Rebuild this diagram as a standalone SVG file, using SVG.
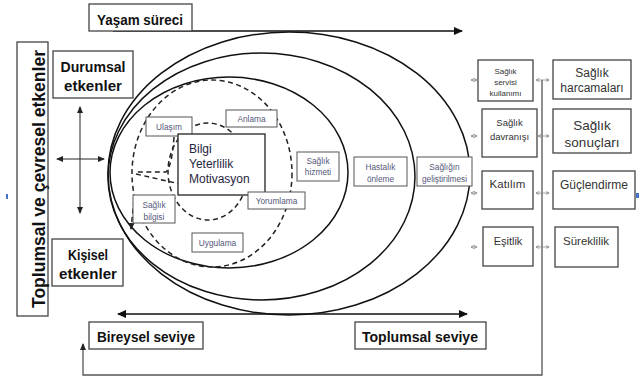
<svg xmlns="http://www.w3.org/2000/svg" width="639" height="385" viewBox="0 0 639 385">
<defs>
<style>
.box{fill:#fff;stroke:#444;stroke-width:1.3}
.sbox{fill:#fff;stroke:#555;stroke-width:1}
.lbl{font-family:"Liberation Sans",Arial,sans-serif;font-weight:bold;fill:#111;text-anchor:middle;font-size:15px}
.sm{font-family:"Liberation Sans",Arial,sans-serif;font-size:8.3px;fill:#55587a;text-anchor:middle}
.rc{font-family:"Liberation Sans",Arial,sans-serif;fill:#333;text-anchor:middle}
.ell{fill:none;stroke:#111;stroke-width:1.5}
.dash{fill:none;stroke:#222;stroke-width:1.5;stroke-dasharray:5 3.5}
.con{fill:none;stroke:#111;stroke-width:1.4}
.tiny{fill:none;stroke:#888;stroke-width:0.8}
</style>
<marker id="ah" markerUnits="userSpaceOnUse" markerWidth="9" markerHeight="8" refX="8" refY="4" orient="auto-start-reverse"><path d="M0,0 L9,4 L0,8 z" fill="#111"/></marker>
<marker id="ah2" markerUnits="userSpaceOnUse" markerWidth="7" markerHeight="6" refX="6" refY="3" orient="auto-start-reverse"><path d="M0,0 L7,3 L0,6 z" fill="#222"/></marker>
<marker id="sa" markerUnits="userSpaceOnUse" markerWidth="4" markerHeight="4" refX="3.5" refY="2" orient="auto-start-reverse"><path d="M0,0.3 L3.6,2 L0,3.7" fill="none" stroke="#888" stroke-width="0.8"/></marker>
</defs>
<rect width="639" height="385" fill="#fff"/>

<g id="ellipses">
<ellipse cx="289" cy="173.5" rx="181" ry="141.5" class="ell" stroke-width="2.6"/>
<ellipse cx="261.5" cy="176.5" rx="153.5" ry="123.5" class="ell"/>
<ellipse cx="229" cy="172.5" rx="119" ry="95.5" class="ell"/>
<ellipse cx="212" cy="173.5" rx="80" ry="93.5" class="dash"/>
<ellipse cx="208" cy="171.5" rx="40" ry="48.5" class="dash"/>
<path d="M174,137 Q172,166 166,172 L136,172 M136,174 L180,184" class="dash"/>
<path d="M134,200 L131,229" class="dash" marker-end="url(#ah2)"/>
</g>

<g id="connectors">
<line x1="113" y1="31" x2="462" y2="31" class="con" marker-end="url(#ah)"/>
<line x1="118" y1="314" x2="467" y2="314" class="con" marker-start="url(#ah)" marker-end="url(#ah)"/>
<line x1="80" y1="107" x2="80" y2="213" stroke="#222" stroke-width="1" marker-start="url(#ah2)" marker-end="url(#ah2)"/>
<line x1="57" y1="159" x2="104" y2="159" stroke="#222" stroke-width="1" marker-start="url(#ah2)" marker-end="url(#ah2)"/>
<path d="M542,80 V375 H83 V344" fill="none" stroke="#555" stroke-width="1.3" marker-end="url(#ah2)"/>
<g class="tiny">
<line x1="471" y1="80" x2="477" y2="80" marker-start="url(#sa)" marker-end="url(#sa)"/>
<line x1="471" y1="136" x2="477" y2="136" marker-start="url(#sa)" marker-end="url(#sa)"/>
<line x1="471" y1="193" x2="477" y2="193" marker-start="url(#sa)" marker-end="url(#sa)"/>
<line x1="471" y1="247" x2="477" y2="247" marker-start="url(#sa)" marker-end="url(#sa)"/>
<line x1="536" y1="80" x2="549" y2="80" marker-start="url(#sa)" marker-end="url(#sa)"/>
<line x1="538" y1="136" x2="549" y2="136" marker-start="url(#sa)" marker-end="url(#sa)"/>
<line x1="536" y1="193" x2="549" y2="193" marker-start="url(#sa)" marker-end="url(#sa)"/>
<line x1="536" y1="247" x2="549" y2="247" marker-start="url(#sa)" marker-end="url(#sa)"/>
</g>
</g>

<g id="yasam-sureci"><rect x="89" y="4" width="103" height="27" class="box"/><text x="140" y="25" class="lbl" textLength="86" lengthAdjust="spacingAndGlyphs">Yaşam süreci</text></g>
<g id="toplumsal-cevresel"><rect x="17" y="42" width="31" height="274" class="box"/><text transform="translate(45,179) rotate(-90)" class="lbl" style="font-size:19px" textLength="258" lengthAdjust="spacingAndGlyphs">Toplumsal ve çevresel etkenler</text></g>
<g id="durumsal"><rect x="53" y="51" width="80" height="47" class="box"/><text x="93" y="72" class="lbl" textLength="65" lengthAdjust="spacingAndGlyphs">Durumsal</text><text x="93" y="91" class="lbl" textLength="58" lengthAdjust="spacingAndGlyphs">etkenler</text></g>
<g id="kisisel"><rect x="52" y="239" width="71" height="47" class="box"/><text x="88" y="260" class="lbl" textLength="40" lengthAdjust="spacingAndGlyphs">Kişisel</text><text x="88" y="279" class="lbl" textLength="58" lengthAdjust="spacingAndGlyphs">etkenler</text></g>
<g id="bireysel"><rect x="89" y="322" width="114" height="27" class="box"/><text x="146" y="342" class="lbl" textLength="98" lengthAdjust="spacingAndGlyphs">Bireysel seviye</text></g>
<g id="toplumsal-seviye"><rect x="355" y="322" width="131" height="27" class="box"/><text x="420" y="342" class="lbl" textLength="116" lengthAdjust="spacingAndGlyphs">Toplumsal seviye</text></g>

<g id="ulasim"><rect x="146" y="117" width="46" height="19" class="sbox"/><text x="169" y="130" class="sm">Ulaşım</text></g>
<g id="anlama"><rect x="226" y="110" width="51" height="17" class="sbox"/><text x="251.5" y="121.5" class="sm">Anlama</text></g>
<g id="bilgi"><rect x="178" y="134" width="87" height="61" fill="#fff" stroke="#222" stroke-width="1.3"/>
<text font-family="'Liberation Sans',Arial,sans-serif" font-size="12" fill="#1f2540"><tspan x="189" y="153">Bilgi</tspan><tspan x="189" y="168">Yeterlilik</tspan><tspan x="189" y="183">Motivasyon</tspan></text></g>
<g id="saglik-hizmeti"><rect x="297" y="152" width="42" height="29" class="sbox"/><text x="318" y="164" class="sm">Sağlık</text><text x="318" y="175" class="sm">hizmeti</text></g>
<g id="yorumlama"><rect x="248" y="192" width="57" height="17" class="sbox"/><text x="276.5" y="203.5" class="sm">Yorumlama</text></g>
<g id="saglik-bilgisi"><rect x="133" y="195" width="42" height="28" class="sbox"/><text x="154" y="208" class="sm">Sağlık</text><text x="154" y="220" class="sm">bilgisi</text></g>
<g id="uygulama"><rect x="192" y="233" width="51" height="19" class="sbox"/><text x="217.5" y="245.5" class="sm">Uygulama</text></g>
<g id="hastalik-onleme"><rect x="354" y="157" width="53" height="29" class="sbox"/><text x="380.5" y="170" class="sm">Hastalık</text><text x="380.5" y="182" class="sm">önleme</text></g>
<g id="sagligin-gelistirilmesi"><rect x="417" y="157" width="55" height="29" class="sbox"/><text x="444.5" y="170" class="sm">Sağlığın</text><text x="444.5" y="182" class="sm">geliştirilmesi</text></g>

<g id="servis-kullanimi"><rect x="478" y="60" width="55" height="41" class="box"/><text class="rc" font-size="8"><tspan x="505.5" y="73.5">Sağlık</tspan><tspan x="505.5" y="84.5">servisi</tspan><tspan x="505.5" y="95.5">kullanımı</tspan></text></g>
<g id="davranis"><rect x="482" y="109" width="55" height="48" class="box"/><text class="rc" font-size="9.5"><tspan x="509.5" y="125.5">Sağlık</tspan><tspan x="509.5" y="139.5">davranışı</tspan></text></g>
<g id="katilim"><rect x="482" y="171" width="51" height="38" class="box"/><text x="507.5" y="188" class="rc" font-size="11.5">Katılım</text></g>
<g id="esitlik"><rect x="483" y="227" width="50" height="39" class="box"/><text x="508" y="245" class="rc" font-size="11">Eşitlik</text></g>
<g id="harcamalari"><rect x="553" y="60" width="78" height="39" class="box"/><text class="rc" font-size="12"><tspan x="592" y="77">Sağlık</tspan><tspan x="592" y="92">harcamaları</tspan></text></g>
<g id="sonuclari"><rect x="553" y="109" width="78" height="44" class="box"/><text class="rc" font-size="13.5"><tspan x="592" y="130">Sağlık</tspan><tspan x="592" y="147">sonuçları</tspan></text></g>
<g id="guclendirme"><rect x="553" y="171" width="82" height="38" class="box"/><text x="594" y="189" class="rc" font-size="12">Güçlendirme</text></g>
<g id="sureklilik"><rect x="555" y="227" width="63" height="40" class="box"/><text x="586" y="245" class="rc" font-size="11.5">Süreklilik</text></g>

<rect x="6" y="194" width="2" height="5" fill="#4472c4"/>
<rect x="636" y="193" width="3" height="5" fill="#4472c4"/>
</svg>
